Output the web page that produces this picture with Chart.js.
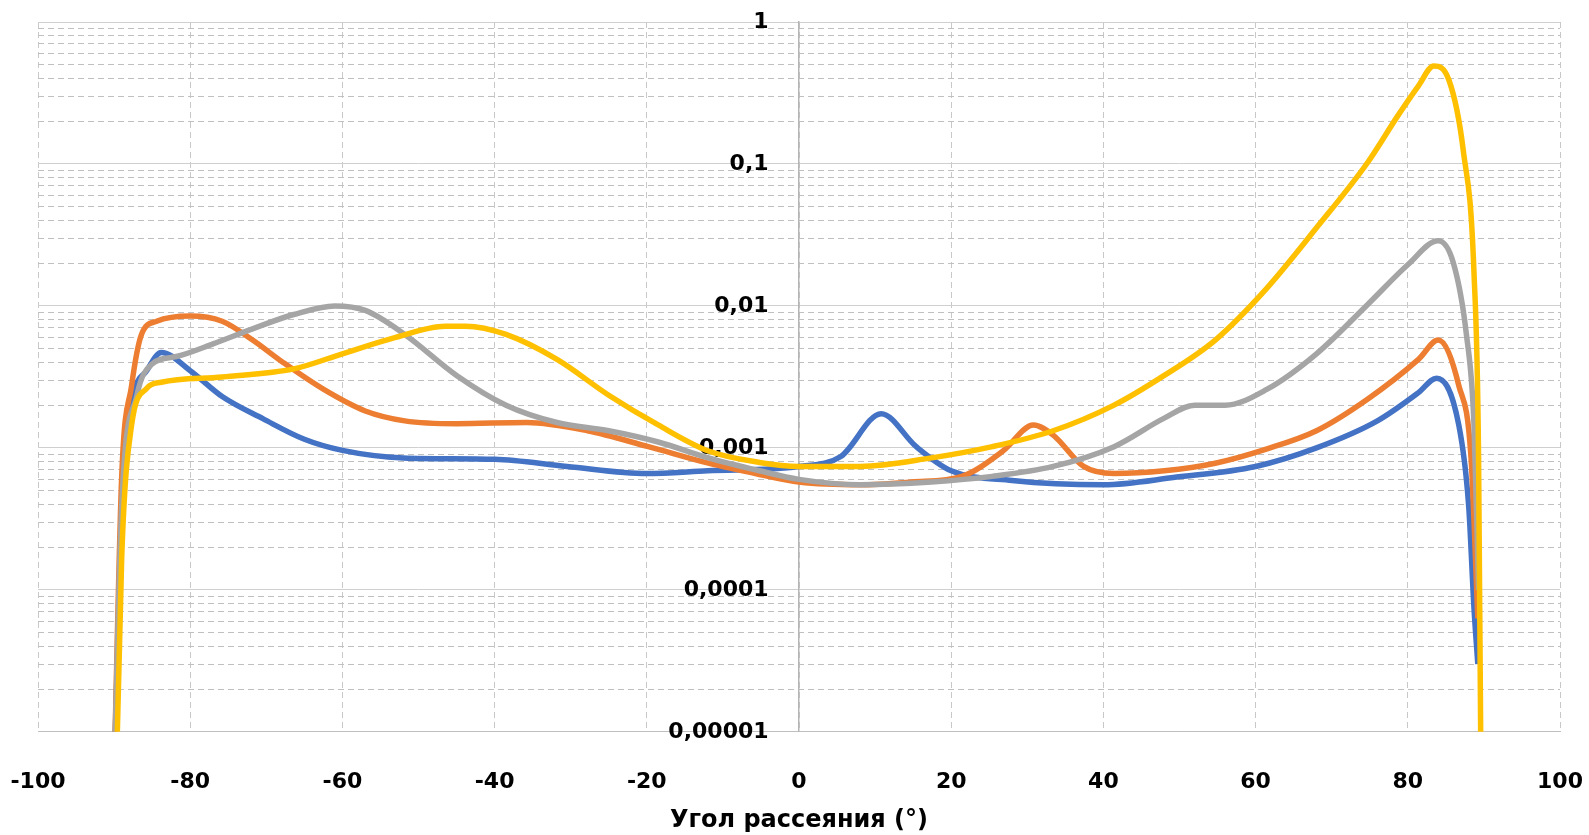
<!DOCTYPE html>
<html>
<head>
<meta charset="utf-8">
<script src="https://cdn.jsdelivr.net/npm/chart.js@4/dist/chart.umd.min.js"></script>
<style>
  html, body { margin: 0; padding: 0; background: #fff; overflow: hidden; }
  #holder { width: 1589px; height: 835px; }
</style>
</head>
<body>
<div id="holder"><canvas id="scatterChart"></canvas></div>
<script>
  // angles (deg) and intensities, one pair of arrays per series
  var blueAngles = [-90, -89, -87.7, -85.7, -83.8, -80, -75.8, -70.4, -65, -60, -52, -40, -30.5, -20, -12, 0, 5.5, 10.8, 15.4, 20, 28, 40, 49.4, 60, 68, 76, 81.4, 83.8, 86.7, 88, 88.7, 89.2];
  var blueValues = [0.000005, 0.00028, 0.0020, 0.0035, 0.0047, 0.0035, 0.0023, 0.0016, 0.00115, 0.00096, 0.00085, 0.00083, 0.00074, 0.00066, 0.00069, 0.00074, 0.00087, 0.00174, 0.00102, 0.00069, 0.00059, 0.00055, 0.00062, 0.00074, 0.0010, 0.00155, 0.00245, 0.0031, 0.00145, 0.00039, 0.000074, 0.00003];

  var orangeAngles = [-90, -89, -87.7, -86.4, -84.4, -80, -75.8, -71.8, -67.8, -62.4, -57, -51.8, -45, -35.8, -27.8, -19.8, -11.9, -5.2, 0, 8, 14.8, 21.4, 26.8, 30.8, 33.4, 37.4, 41.4, 48, 54.7, 61.4, 68, 74.7, 81.4, 84, 86.7, 88.3, 89.2];
  var orangeValues = [0.000005, 0.00063, 0.00275, 0.0063, 0.0078, 0.0085, 0.0078, 0.00575, 0.0040, 0.00257, 0.00182, 0.00155, 0.00148, 0.00151, 0.00132, 0.00102, 0.00078, 0.00065, 0.000575, 0.00055, 0.000575, 0.00063, 0.00095, 0.00145, 0.00123, 0.00074, 0.00066, 0.00069, 0.00078, 0.00098, 0.00132, 0.0022, 0.0042, 0.00575, 0.00275, 0.00087, 0.000063];

  var grayAngles = [-90, -89, -87, -85, -81.8, -77, -71.8, -66.4, -61, -57, -51.8, -45, -38.5, -31.8, -25, -18.5, -11.9, -5.2, 0, 8, 17.4, 25.4, 33.4, 41.4, 48, 52, 56, 61.4, 68, 74.7, 80, 84, 86, 87.7, 88.7, 89.3];
  var grayValues = [0.000005, 0.00039, 0.00235, 0.0039, 0.0044, 0.0054, 0.0069, 0.0087, 0.0100, 0.0093, 0.0063, 0.00324, 0.0020, 0.00151, 0.00132, 0.0011, 0.00085, 0.00069, 0.00060, 0.00055, 0.000575, 0.00063, 0.00074, 0.00102, 0.00162, 0.0020, 0.0020, 0.00257, 0.0046, 0.0102, 0.0195, 0.0288, 0.020, 0.0063, 0.00145, 0.0001];

  var yellowAngles = [-90, -89, -87.7, -85.7, -83.8, -75.8, -66.4, -60, -53, -46.5, -43.8, -38.5, -31.8, -25, -18.5, -11.9, -5.2, 0, 8, 17.4, 25.4, 33.4, 41.4, 48, 54.7, 61.4, 68, 74.7, 78.7, 81.4, 83.4, 85.4, 87.3, 88.7, 89.3, 89.7];
  var yellowValues = [0.000001, 0.00017, 0.00145, 0.00263, 0.0029, 0.00316, 0.0036, 0.0046, 0.0060, 0.0072, 0.0072, 0.0063, 0.0042, 0.00235, 0.00145, 0.00095, 0.00079, 0.00074, 0.00074, 0.00085, 0.00102, 0.00132, 0.0020, 0.00324, 0.00575, 0.0132, 0.0355, 0.102, 0.219, 0.355, 0.49, 0.39, 0.123, 0.017, 0.00087, 0.000001];

  var xTickStep = 20;
  var yTickValues = [0.00001, 0.0001, 0.001, 0.01, 0.1, 1];
  var yTickLabels = ['0,00001', '0,0001', '0,001', '0,01', '0,1', '1'];
  var xTitle = 'Угол рассеяния (°)';

  var yMinorValues = [];
  yTickValues.slice(0, -1).forEach(function (d) {
    for (var k = 2; k <= 9; k++) yMinorValues.push(d * k);
  });

  function toPoints(xs, ys) {
    return xs.map(function (x, i) { return { x: x, y: ys[i] }; });
  }

  function series(label, xs, ys, color, order) {
    return {
      label: label,
      data: toPoints(xs, ys),
      borderColor: color,
      backgroundColor: color,
      borderWidth: 5.5,
      pointRadius: 0,
      cubicInterpolationMode: 'monotone',
      order: order
    };
  }

  var tickFont = { family: 'DejaVu Sans', weight: 'bold', size: 22 };
  var titleFont = { family: 'DejaVu Sans', weight: 'bold', size: 24 };

  var context = document.getElementById('scatterChart').getContext('2d');
  var chart = new Chart(context, {
    type: 'line',
    data: {
      datasets: [
        series('1', blueAngles, blueValues, '#4472C4', 4),
        series('2', orangeAngles, orangeValues, '#ED7D31', 3),
        series('3', grayAngles, grayValues, '#A5A5A5', 2),
        series('4', yellowAngles, yellowValues, '#FFC000', 1)
      ]
    },
    options: {
      responsive: true,
      maintainAspectRatio: false,
      animation: false,
      layout: { padding: { left: 38, right: 29, top: 22, bottom: 0 } },
      plugins: { legend: { display: false }, tooltip: { enabled: false } },
      scales: {
        x: {
          type: 'linear',
          min: -100,
          max: 100,
          ticks: { stepSize: xTickStep, color: '#000', font: tickFont, padding: 0 },
          grid: { color: '#c8c8c8', lineWidth: 1, drawTicks: true, tickLength: 37, tickColor: 'rgba(0,0,0,0)' },
          border: { display: true, color: '#bfbfbf', dash: [6, 4] },
          title: { display: true, text: xTitle, color: '#000', font: titleFont, padding: { top: 11, bottom: 0 } }
        },
        // minor decades: dashed lines, and the solid vertical axis line at x = 0
        yMinor: {
          type: 'logarithmic',
          position: { x: 0 },
          min: 0.00001,
          max: 1,
          afterBuildTicks: function (scale) {
            scale.ticks = yMinorValues.map(function (v) { return { value: v }; });
          },
          ticks: { display: false },
          grid: { color: '#c0c0c0', lineWidth: 1, drawTicks: false },
          border: { display: true, color: '#b5b5b5', width: 1.5, dash: [6, 4] }
        },
        // major decades: solid lines and the labels, set a little left of x = 0
        y: {
          type: 'logarithmic',
          position: { x: -4 },
          min: 0.00001,
          max: 1,
          afterBuildTicks: function (scale) {
            scale.ticks = yTickValues.map(function (v) { return { value: v }; });
          },
          ticks: {
            color: '#000',
            font: tickFont,
            padding: 0,
            callback: function (value, index) { return yTickLabels[index]; }
          },
          grid: { color: '#cfcfcf', lineWidth: 1, drawTicks: false },
          border: { display: false }
        }
      }
    }
  });
</script>
</body>
</html>
